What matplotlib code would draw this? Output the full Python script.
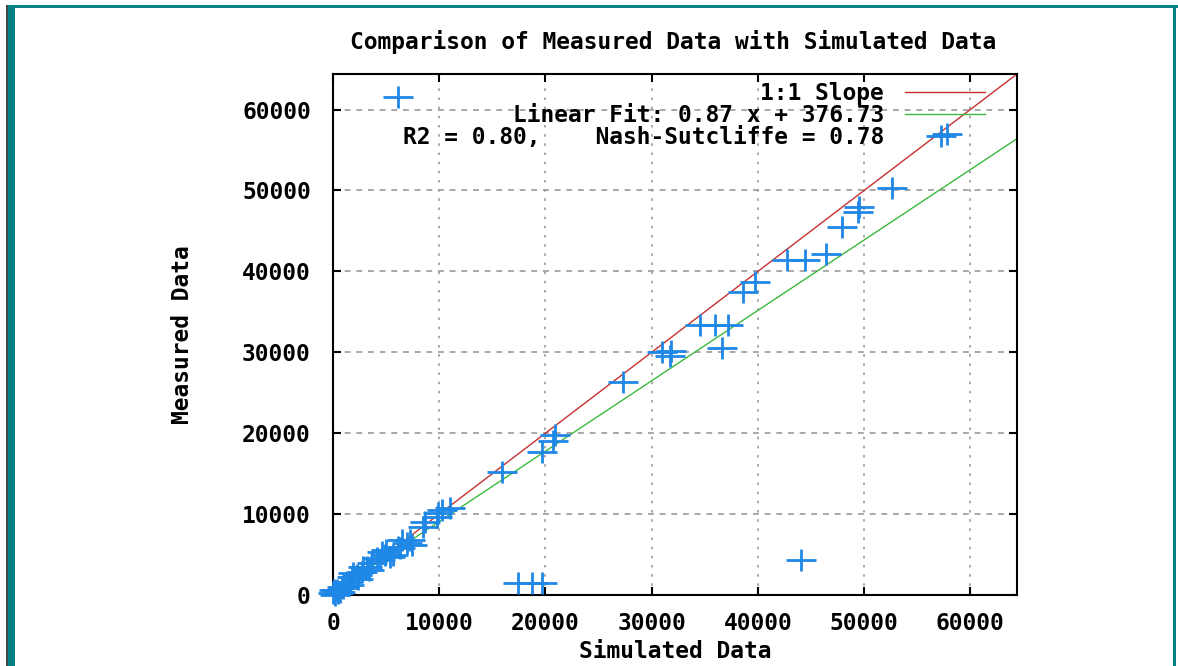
import numpy as np
import matplotlib.pyplot as plt
from matplotlib.lines import Line2D
from matplotlib.path import Path
from matplotlib.patches import Rectangle

# Dados
simulated = [57200, 57850, 52590, 49390, 49500, 47880, 46380, 44400, 42710,
             39700, 38570, 37160, 35940, 34520, 36600, 31000, 31700, 31800,
             27280, 20700, 20900, 19660, 15900, 6110, 44030, 17400, 18720, 19660,
             11000, 10250, 9880, 9780, 8650, 8470, 6960, 6490, 6110, 5640, 4890,
             4610, 4140, 3670, 3200, 2730, 2260, 1790, 1320, 850, 380, 0, 200,
             950, 1880, 2820, 4420, 5360, 7240, 7430, 500, 1500, 2400, 3400,
             5000, 6300, 700, 100]
measured = [56700, 57000, 50250, 47300, 48000, 45540, 42200, 41460, 41460,
            38740, 37500, 33420, 33420, 33420, 30570, 30000, 29600, 30100,
            26360, 19000, 19800, 17700, 15220, 61500, 4330, 1500, 1500, 1500,
            10770, 10520, 10150, 9650, 9030, 8420, 6440, 6810, 5940, 4950, 4950,
            5320, 4580, 3960, 3470, 2850, 2480, 2230, 1610, 990, 620, 250, 0,
            870, 2720, 3470, 4330, 4700, 6810, 6190, 300, 1200, 2000, 3100,
            5600, 5800, 400, 600]

slope = 0.87
intercept = 376.73
r2 = 0.80
nash = 0.78
axis_max = 64400
ticks = [0, 10000, 20000, 30000, 40000, 50000, 60000]

plt.rcParams['font.family'] = 'DejaVu Sans Mono'
plt.rcParams['font.weight'] = 'bold'
plt.rcParams['axes.labelweight'] = 'bold'
fs = 16.5

fig = plt.figure(figsize=(11.78, 6.66), dpi=100)
W, H = 1178, 666
ax = fig.add_axes([333 / W, 1 - 595 / H, 684 / W, 521 / H])

# moldura verde-azulada
teal = '#008080'
fig.add_artist(Rectangle((6 / W, 0), 1.5 / W, 1 - 5 / H, transform=fig.transFigure, color='#404848', lw=0))
fig.add_artist(Rectangle((7.5 / W, 0), 7 / W, 1 - 5 / H, transform=fig.transFigure, color=teal, lw=0))
fig.add_artist(Rectangle((7.5 / W, 1 - 8 / H), 1170 / W, 3 / H, transform=fig.transFigure, color=teal, lw=0))
fig.add_artist(Rectangle((1173 / W, 0), 3 / W, 1 - 5 / H, transform=fig.transFigure, color=teal, lw=0))

# marcador "+" mais largo que alto
cross = Path([(-1, 0), (1, 0), (0, -0.73), (0, 0.73)],
             [Path.MOVETO, Path.LINETO, Path.MOVETO, Path.LINETO])

ax.plot(simulated, measured, linestyle='none', marker=cross, markersize=22,
        markeredgewidth=2, color='#1f88e6', zorder=3, clip_on=False)
l1 = ax.axline((0, 0), slope=1, color='#c83030', lw=1, label='1:1 Slope', zorder=2)
l2 = ax.axline((0, intercept), slope=slope, color='#3cb83c', lw=1,
               label=f'Linear Fit: {slope:.2f} x + {intercept:.2f}', zorder=2)
dummy = Line2D([], [], color='none', label=f'R2 = {r2:.2f},    Nash-Sutcliffe = {nash:.2f}')

ax.set_xlim(0, axis_max)
ax.set_ylim(0, axis_max)
ax.set_xticks(ticks)
ax.set_yticks(ticks)
ax.tick_params(direction='in', length=6, width=1.5, top=True, right=True,
               labelsize=fs, colors='black')
ax.tick_params(axis='y', pad=16)
ax.tick_params(axis='x', pad=12)
for s in ax.spines.values():
    s.set_linewidth(1.5)

ax.grid(True, axis='x', color='#999999', lw=1.2, linestyle=(0, (1.5, 4)))
ax.grid(True, axis='y', color='#999999', lw=1.2, linestyle=(0, (3.5, 3.5)))

ax.set_xlabel('Simulated Data', fontsize=fs, fontweight='bold')
ax.set_ylabel('Measured Data', fontsize=fs, fontweight='bold')
ax.xaxis.set_label_coords(0.5, (595 - 652) / 521, transform=ax.transAxes)
ax.yaxis.set_label_coords((183 - 333) / 684, 0.5, transform=ax.transAxes)
ax.xaxis.label.set_va('center')
ax.yaxis.label.set_va('center')

fig.text(673 / W, 1 - 42 / H, 'Comparison of Measured Data with Simulated Data',
         ha='center', va='center', fontsize=fs, fontweight='bold')

ax.legend(handles=[l1, l2, dummy], loc='upper right', markerfirst=False,
          bbox_to_anchor=((985 - 333) / 684, (595 - 82) / 521), frameon=False,
          fontsize=fs, handlelength=3.5, handletextpad=0.9, borderpad=0,
          borderaxespad=0, labelspacing=-0.05)

plt.savefig('out.png', dpi=100)
